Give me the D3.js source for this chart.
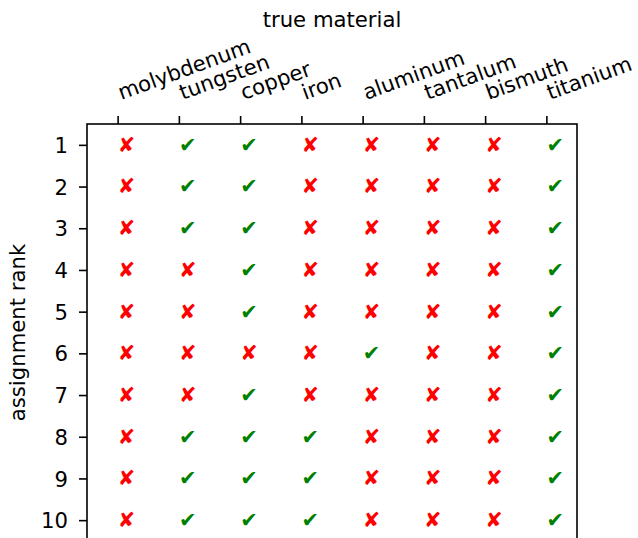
<!DOCTYPE html>
<html><head><meta charset="utf-8">
<script src="https://cdn.jsdelivr.net/npm/d3@7"></script>
<style>
html,body{margin:0;padding:0;background:#fff;overflow:hidden;}
svg{display:block;font-family:"DejaVu Sans",sans-serif;}
svg text{font-family:"DejaVu Sans",sans-serif;}
</style></head>
<body><svg id="c" width="638" height="538"></svg>
<script>
const materials = ["molybdenum","tungsten","copper","iron","aluminum","tantalum","bismuth","titanium"];
const ranks = [1,2,3,4,5,6,7,8,9,10];
// 1 = correct (✔), 0 = wrong (✘); one row per assignment rank
const correct = [
  [0,1,1,0,0,0,0,1],
  [0,1,1,0,0,0,0,1],
  [0,1,1,0,0,0,0,1],
  [0,0,1,0,0,0,0,1],
  [0,0,1,0,0,0,0,1],
  [0,0,0,0,1,0,0,1],
  [0,0,1,0,0,0,0,1],
  [0,1,1,1,0,0,0,1],
  [0,1,1,1,0,0,0,1],
  [0,1,1,1,0,0,0,1]
];
const xTitle = "true material";
const yTitle = "assignment rank";

const svg = d3.select("#c");
const mL = 87, mR = 577, mT = 124, mB = 541;
const x = d3.scaleLinear().domain([-0.5, materials.length - 0.5]).range([mL, mR]);
const y = d3.scaleLinear().domain([0.5, ranks.length + 0.5]).range([mT, mB]);

const fs = 21.2;
// markers
const cells = [];
correct.forEach((row, ri) => row.forEach((v, ci) => cells.push({r: ranks[ri], c: ci, v})));
svg.append("g").selectAll("text").data(cells).join("text")
  .attr("x", d => x(d.c))
  .attr("y", d => y(d.r))
  .attr("text-anchor", "start")
  .attr("dy", "0.33em")
  .attr("font-size", 20.8)
  .attr("fill", d => d.v ? "#008000" : "#ff0000")
  .text(d => d.v ? "\u2714" : "\u2718");

// top axis
const xAxis = d3.axisTop(x).tickValues(d3.range(materials.length)).tickSize(8).tickFormat(i => materials[i]);
const gx = svg.append("g").attr("transform", `translate(0,${mT})`).call(xAxis)
  .attr("font-family", "DejaVu Sans");
gx.select(".domain").remove();
gx.selectAll(".tick line").attr("stroke", "#000").attr("stroke-width", 1.6);
gx.selectAll(".tick text")
  .attr("font-size", fs).attr("fill", "#000")
  .attr("text-anchor", "start")
  .attr("y", 0).attr("dy", 0)
  .attr("transform", "translate(3,-24) rotate(-20)");

// left axis
const yAxis = d3.axisLeft(y).tickValues(ranks).tickSize(8).tickPadding(11);
const gy = svg.append("g").attr("transform", `translate(${mL},0)`).call(yAxis)
  .attr("font-family", "DejaVu Sans");
gy.select(".domain").remove();
gy.selectAll(".tick line").attr("stroke", "#000").attr("stroke-width", 1.6);
gy.selectAll(".tick text").attr("font-size", fs).attr("fill", "#000").attr("dy", "0.36em");

// frame
svg.append("rect").attr("x", mL).attr("y", mT).attr("width", mR - mL).attr("height", mB - mT)
  .attr("fill", "none").attr("stroke", "#000").attr("stroke-width", 1.6);

svg.append("text").attr("x", (mL + mR) / 2).attr("y", 27).attr("text-anchor", "middle")
  .attr("font-size", fs).text(xTitle);
svg.append("text").attr("transform", `translate(25,${(mT + mB) / 2}) rotate(-90)`)
  .attr("text-anchor", "middle").attr("font-size", fs).text(yTitle);
</script></body></html>
